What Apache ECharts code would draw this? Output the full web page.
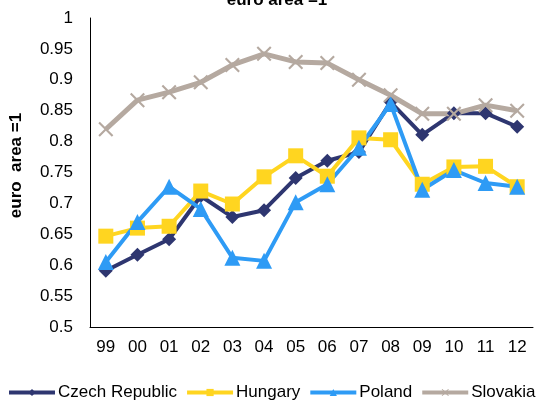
<!DOCTYPE html>
<html>
<head>
<meta charset="utf-8">
<script src="https://cdn.jsdelivr.net/npm/echarts@6/dist/echarts.min.js"></script>
<style>
  html, body { margin: 0; padding: 0; background: #fff; }
  #chart { width: 542px; height: 403px; }
</style>
</head>
<body>
<div id="chart"></div>
<script>
// years on the x axis
var years = ["99", "00", "01", "02", "03", "04", "05", "06", "07", "08", "09", "10", "11", "12"];
// price level relative to euro area (=1)
var czech = [0.591, 0.617, 0.642, 0.712, 0.678, 0.689, 0.741, 0.769, 0.783, 0.864, 0.811, 0.846, 0.846, 0.824];
var hungary = [0.647, 0.660, 0.663, 0.720, 0.699, 0.743, 0.777, 0.744, 0.806, 0.803, 0.731, 0.759, 0.760, 0.727];
var poland = [0.605, 0.670, 0.727, 0.691, 0.612, 0.607, 0.702, 0.731, 0.790, 0.861, 0.722, 0.754, 0.733, 0.727];
var slovakia = [0.820, 0.867, 0.880, 0.896, 0.924, 0.942, 0.929, 0.927, 0.900, 0.875, 0.845, 0.845, 0.859, 0.850];

var font = "Liberation Sans, Arial, sans-serif";
var crossPath = "path://M0,1 L1,0 L5,4 L9,0 L10,1 L6,5 L10,9 L9,10 L5,6 L1,10 L0,9 L4,5 Z";

function line(name, data, color, symbol, size, width) {
  return {
    name: name,
    type: "line",
    data: data,
    symbol: symbol,
    symbolSize: size,
    showSymbol: true,
    lineStyle: { color: color, width: width },
    itemStyle: { color: color },
    emphasis: { disabled: true }
  };
}

var chart = echarts.init(document.getElementById("chart"));
chart.setOption({
  animation: false,
  textStyle: { fontFamily: font },
  title: {
    text: "euro area =1",
    left: 272,
    top: -13,
    textAlign: "center",
    textStyle: { fontSize: 17, fontWeight: "bold", color: "#000", fontFamily: font }
  },
  grid: { left: 90, right: 9, top: 18, bottom: 76 },
  legend: {
    top: 384,
    left: 7,
    right: 0,
    padding: 0,
    itemWidth: 46,
    itemHeight: 9,
    itemGap: 8,
    lineStyle: { width: 4 },
    textStyle: { fontSize: 17, color: "#000", fontFamily: font, padding: [0, 0, 0, -2] },
    data: ["Czech Republic", "Hungary", "Poland", "Slovakia"]
  },
  xAxis: {
    type: "category",
    data: years,
    boundaryGap: true,
    axisLine: { lineStyle: { color: "#000", width: 1 } },
    axisTick: { show: false },
    axisLabel: { color: "#000", fontSize: 17, margin: 12 }
  },
  yAxis: {
    type: "value",
    min: 0.5,
    max: 1,
    interval: 0.05,
    name: "euro  area =1",
    nameLocation: "middle",
    nameRotate: 90,
    nameGap: 65,
    nameTextStyle: { fontSize: 17, fontWeight: "bold", color: "#000", padding: [0, 0, 0, 14] },
    axisLine: { show: true, lineStyle: { color: "#000", width: 1 } },
    axisTick: { show: false },
    splitLine: { show: false },
    axisLabel: {
      color: "#000",
      fontSize: 17,
      margin: 17,
      formatter: function (v) { return String(Math.round(v * 100) / 100); }
    }
  },
  series: [
    line("Czech Republic", czech, "#2E3670", "diamond", 14, 4),
    line("Hungary", hungary, "#FFD520", "rect", 15, 4),
    line("Poland", poland, "#2E9BF5", "triangle", 16, 4),
    line("Slovakia", slovakia, "#B5A9A0", crossPath, 15, 5)
  ]
});
</script>
</body>
</html>
